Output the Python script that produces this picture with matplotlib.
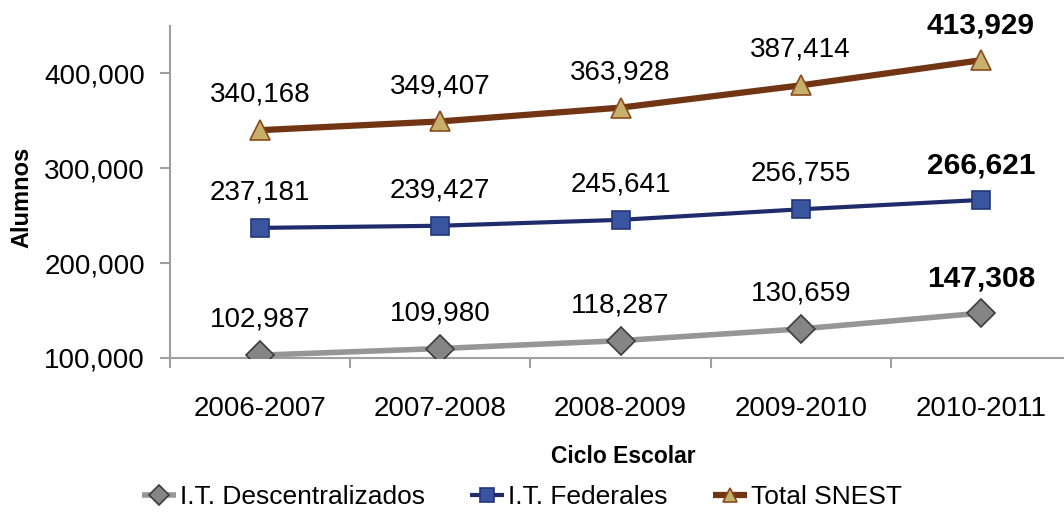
#!/usr/bin/env python3

import matplotlib.pyplot as plt
from matplotlib import font_manager

ciclos = ['2006-2007', '2007-2008', '2008-2009', '2009-2010', '2010-2011']
descentralizados = [102987, 109980, 118287, 130659, 147308]
federales = [237181, 239427, 245641, 256755, 266621]
total_snest = [340168, 349407, 363928, 387414, 413929]
yticks = [100000, 200000, 300000, 400000]

names = {f.name for f in font_manager.fontManager.ttflist}
narrow = ['Liberation Sans Narrow', 'Liberation Sans'] if 'Liberation Sans Narrow' in names else ['Liberation Sans']
has_narrow = 'Liberation Sans Narrow' in names
plt.rcParams['font.family'] = ['Liberation Sans', 'DejaVu Sans']

fig = plt.figure(figsize=(10.64, 5.18), dpi=100)
ax = fig.add_axes([170 / 1064, 1 - 358 / 518, 901 / 1064, 332 / 518])

series = [
    ('I.T. Descentralizados', descentralizados, '#969696', 'D', 14, '#858585', '#3c3c3c', 4),
    ('I.T. Federales', federales, '#1f2c6c', 's', 12.5, '#3a55a0', '#23367a', 3),
    ('Total SNEST', total_snest, '#723514', '^', 14, '#c6b06c', '#8a4a1c', 4.5),
]

x = list(range(len(ciclos)))
for label, vals, lc, mk, ms, mfc, mec, lw in series:
    ax.plot(x, vals, color=lc, lw=lw, marker=mk, ms=ms, mfc=mfc, mec=mec,
            mew=1.2, label=label, solid_capstyle='butt', zorder=3)
    for i, v in enumerate(vals):
        if i == len(vals) - 1:
            ax.annotate(f'{v:,}', (i, v), xytext=(0, 25), textcoords='offset points',
                        ha='center', va='center', fontsize=24 if has_narrow else 21.5,
                        fontweight='bold', family=narrow)
        else:
            ax.annotate(f'{v:,}', (i, v), xytext=(0, 25.5), textcoords='offset points',
                        ha='center', va='center', fontsize=20)

ax.set_xlim(-0.5, 4.5)
ax.set_ylim(100000, 450000)
ax.set_yticks(yticks)
ax.set_yticklabels([f'{t:,}' for t in yticks], fontsize=20)
ax.set_xticks([i + 0.5 for i in range(-1, len(ciclos))])
ax.set_xticklabels([])
ax.set_xticks(x, minor=True)
ax.set_xticklabels(ciclos, minor=True, fontsize=20)
ax.tick_params(axis='x', which='minor', length=0, pad=27)
ax.tick_params(axis='x', which='major', length=7, color='#a0a0a0', width=1.5)
ax.tick_params(axis='y', length=7, color='#a0a0a0', width=1.5, pad=11)

for s in ['top', 'right']:
    ax.spines[s].set_visible(False)
for s in ['left', 'bottom']:
    ax.spines[s].set_color('#a0a0a0')
    ax.spines[s].set_linewidth(1.5)

ax.set_ylabel('Alumnos', fontsize=19 if has_narrow else 17, fontweight='bold', family=narrow)
ax.set_xlabel('Ciclo Escolar', fontsize=19 if has_narrow else 16.5, fontweight='bold', family=narrow)
ax.yaxis.set_label_coords(-0.152, 0.485)
ax.xaxis.set_label_coords(0.503, -0.262)

fig.legend(loc='center', bbox_to_anchor=(522 / 1064, 1 - 497 / 518), ncol=3,
           frameon=False, handlelength=1.3, handletextpad=0.15, columnspacing=1.7,
           markerscale=0.75, prop={'family': narrow, 'size': 22 if has_narrow else 19},
           borderaxespad=0)

fig.savefig('out.png', dpi=100)
